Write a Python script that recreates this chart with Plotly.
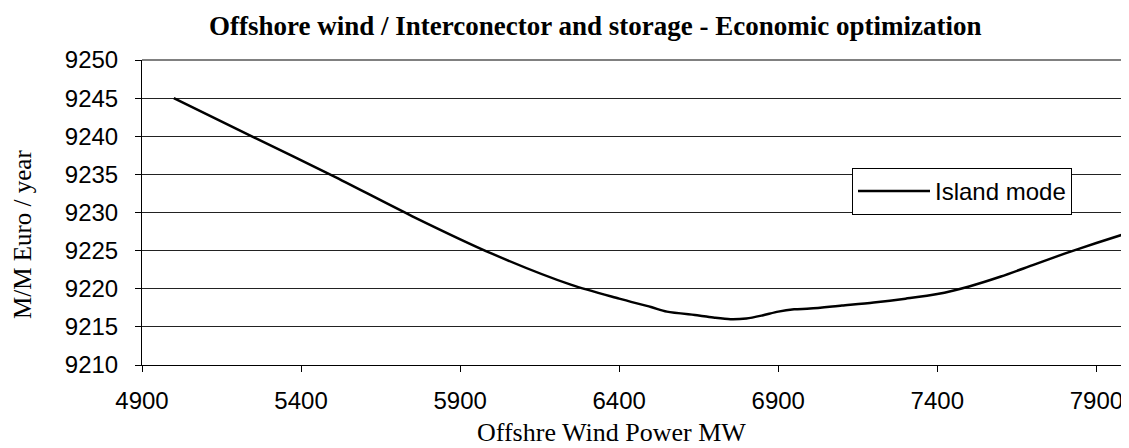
import plotly.graph_objects as go

# Data
wind_mw = [5000, 5250, 5500, 5750, 6000, 6250, 6400, 6500, 6550, 6650, 6700, 6750, 6800, 6850,
           6900, 6950, 7000, 7100, 7200, 7300, 7400, 7500, 7600, 7700, 7800, 7900, 7990]
island_mode = [9245.0, 9239.9, 9234.8, 9229.5, 9224.6, 9220.5, 9218.7, 9217.6, 9217.0, 9216.5,
               9216.2, 9216.0, 9216.1, 9216.5, 9217.0, 9217.3, 9217.4, 9217.8, 9218.2, 9218.7,
               9219.3, 9220.3, 9221.6, 9223.1, 9224.6, 9226.0, 9227.2]
x_ticks = [4900, 5400, 5900, 6400, 6900, 7400, 7900]
y_ticks = [9210, 9215, 9220, 9225, 9230, 9235, 9240, 9245, 9250]

SERIF = "Liberation Serif, Times New Roman, serif"
SANS = "Liberation Sans, Arial, sans-serif"

# page body has an 8px margin: figure sits at (8, 8)
OFF = 8
PL, PR, PT, PB = 142, 1125, 60, 365  # plot area in window pixels
PW, PH = PR - PL, PB - PT

fig = go.Figure()
fig.add_trace(go.Scatter(
    x=wind_mw, y=island_mode, mode="lines", name="Island mode",
    line=dict(color="black", width=2.5, shape="spline", smoothing=0.8),
))

fig.update_layout(
    width=1129 - OFF, height=448 - OFF,
    margin=dict(l=PL - OFF, r=1129 - PR, t=PT - OFF, b=448 - PB, pad=0),
    paper_bgcolor="white", plot_bgcolor="white",
    showlegend=True,
    legend=dict(
        x=(852 - PL) / PW, y=(PB - 168) / PH, xanchor="left", yanchor="top",
        bordercolor="black", borderwidth=1, bgcolor="white",
        font=dict(family=SANS, size=24, color="black"),
        itemwidth=72,
    ),
    xaxis=dict(
        range=[4900, 7990], tickvals=x_ticks, ticktext=[str(v) for v in x_ticks],
        showgrid=False, zeroline=False,
        showline=True, linecolor="black", linewidth=1,
        ticks="outside", ticklen=6, tickcolor="black",
        ticklabelstandoff=8,
        tickfont=dict(family=SANS, size=24, color="black"),
    ),
    yaxis=dict(
        range=[9210, 9250], tickvals=y_ticks, ticktext=[str(v) for v in y_ticks],
        showgrid=True, gridcolor="#222222", gridwidth=1, zeroline=False,
        showline=True, linecolor="black", linewidth=1,
        ticks="outside", ticklen=6, tickcolor="black",
        ticklabelstandoff=12,
        tickfont=dict(family=SANS, size=24, color="black"),
    ),
    shapes=[
        dict(type="line", xref="paper", yref="paper", x0=1, x1=1, y0=0, y1=1,
             line=dict(color="#808080", width=2)),
        dict(type="line", xref="paper", yref="paper", x0=0, x1=1, y0=1, y1=1,
             line=dict(color="#808080", width=2)),
    ],
    annotations=[
        dict(text="<b>Offshore wind / Interconector and storage - Economic optimization</b>",
             xref="paper", yref="paper", x=(595 - PL) / PW, y=1 + (PT - 26) / PH,
             xanchor="center", yanchor="middle", showarrow=False,
             font=dict(family=SERIF, size=27, color="black")),
        dict(text="Offshre Wind Power MW",
             xref="paper", yref="paper", x=(611 - PL) / PW, y=-(433 - PB) / PH,
             xanchor="center", yanchor="middle", showarrow=False,
             font=dict(family=SERIF, size=26, color="black")),
        dict(text="M/M Euro / year", textangle=-90,
             xref="paper", yref="paper", x=-(PL - 22) / PW, y=(PB - 235) / PH,
             xanchor="center", yanchor="middle", showarrow=False,
             font=dict(family=SERIF, size=25, color="black")),
    ],
)

fig.write_html("out.html")
